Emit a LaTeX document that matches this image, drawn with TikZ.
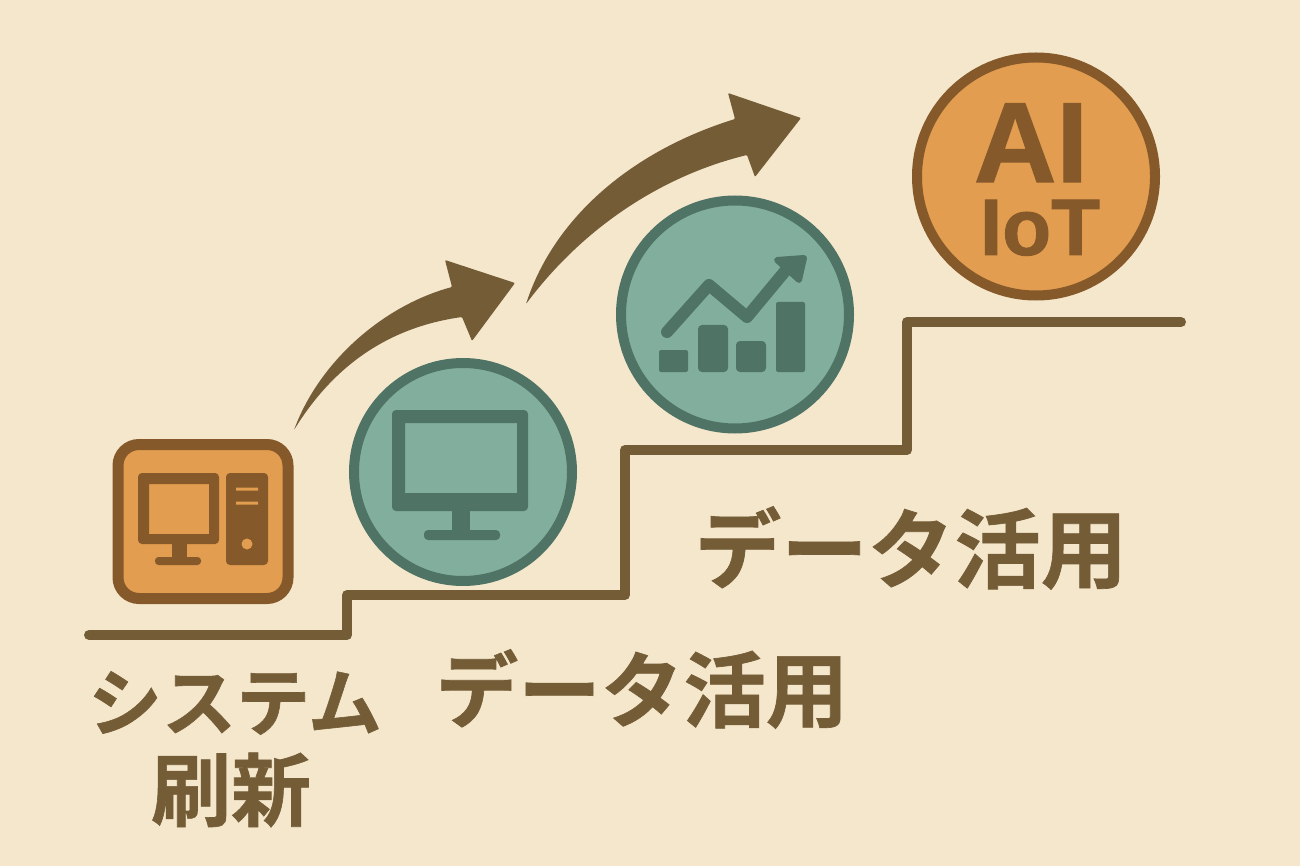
\documentclass[tikz,border=0pt]{standalone}
\usepackage{fontspec}
\setmainfont{Liberation Sans}
\newfontfamily\jpfont[FakeBold=0.8]{Noto Sans CJK JP Bold}
\newfontfamily\aifont[FakeBold=1.2]{Liberation Sans Bold}
\usetikzlibrary{positioning}
\definecolor{paper}{HTML}{F5E7CC}
\definecolor{ink}{HTML}{745C37}
\definecolor{amber}{HTML}{E29D50}
\definecolor{amberdark}{HTML}{85592A}
\definecolor{teal}{HTML}{82AE9E}
\definecolor{tealdark}{HTML}{4F7365}
\tikzset{
  stagecircle/.style = {draw, circle, inner sep = 0pt, line width = 10pt},
  ambericon/.style = {fill = amberdark, rounded corners = 4pt},
  tealicon/.style = {fill = tealdark, rounded corners = 4pt},
  jplabel/.style = {text = ink, inner sep = 0pt, font = \jpfont\fontsize{#1}{#1}\selectfont},
  ailabel/.style = {text = amberdark, inner sep = 0pt, anchor = base, text depth = 0pt, text height = #1*0.72pt, font = \aifont\fontsize{#1}{#1}\selectfont},
}
\begin{document}
\begin{tikzpicture}[x = 1pt, y = -1pt]
\useasboundingbox (0,0) rectangle (1300,866);
\fill [paper] (0,0) rectangle (1300,866);
\draw [ink, line width = 10pt, line cap = round, line join = round] (89,635) -- (347,635) -- (347,595) -- (625,595) -- (625,450) -- (907,450) -- (907,322) -- (1181,322);
\fill [ink, rounded corners = 1pt] (294,430) .. controls (320,360) and (385,305) .. (452,287) -- (445,260) -- (515,283) -- (472,341) -- (462,317) .. controls (405,325) and (342,352) .. (294,430) -- cycle;
\fill [ink, rounded corners = 1pt] (526,304) .. controls (555,215) and (635,150) .. (735,119) -- (728,93) -- (801,118) -- (755,177) -- (747,155) .. controls (665,175) and (585,225) .. (526,304) -- cycle;
\node [draw = amberdark, fill = amber, line width = 11pt, rounded corners = 21pt, minimum width = 170pt, minimum height = 154pt, inner sep = 0pt] (system) at (203,521.5) {};
\fill [ambericon, even odd rule] (138,473) rectangle (219,544) (149,484) [sharp corners] rectangle (209,534);
\fill [amberdark] (172,540) rectangle (187,560);
\fill [ambericon, rounded corners = 3.5pt] (155,557) rectangle (201,565);
\fill [ambericon] (226,473) rectangle (268,565);
\fill [amber] (236,487.5) rectangle (258,490.5) (236,501.5) rectangle (258,504.5) (247,544) circle (5.5);
\node [stagecircle, draw = tealdark, fill = teal, minimum size = 218pt] (monitor) at (463,472) {};
\fill [tealicon, even odd rule] (392,410) rectangle (528,511) (405,423) [sharp corners] rectangle (517,493);
\fill [tealdark] (452,505) rectangle (470,534);
\fill [tealicon] (424,530) rectangle (500,540);
\node [stagecircle, draw = tealdark, fill = teal, minimum size = 228pt] (chart) at (735,314.5) {};
\fill [tealicon, rounded corners = 2pt] (659,350) rectangle (688,372);
\fill [tealicon] (698,325) rectangle (728,372);
\fill [tealicon] (736,341) rectangle (766,372);
\fill [tealicon, rounded corners = 2pt] (776,302) rectangle (805,372);
\draw [tealdark, line width = 12pt, line cap = round, line join = round] (667,332) -- (709,285) -- (747,317) -- (786,270);
\filldraw [tealdark, line width = 6pt, line join = round] (777,260) -- (804,258) -- (799,280) -- cycle;
\node [stagecircle, draw = amberdark, fill = amber, minimum size = 238pt] (aiot) at (1036,176.5) {};
\node [ailabel = 114] (ai) at (1031,182) {AI};
\node [ailabel = 80] (iot) at (1040,255) {IoT};
\node [jplabel = 74] (sysname) at (235,703) {システム};
\node [jplabel = 80] (sysrenew) at (231,790) {刷新};
\node [jplabel = 82.5] (datalow) at (642,689) {データ活用};
\node [jplabel = 86.5] (datahigh) at (911,548) {データ活用};
\end{tikzpicture}
\end{document}
